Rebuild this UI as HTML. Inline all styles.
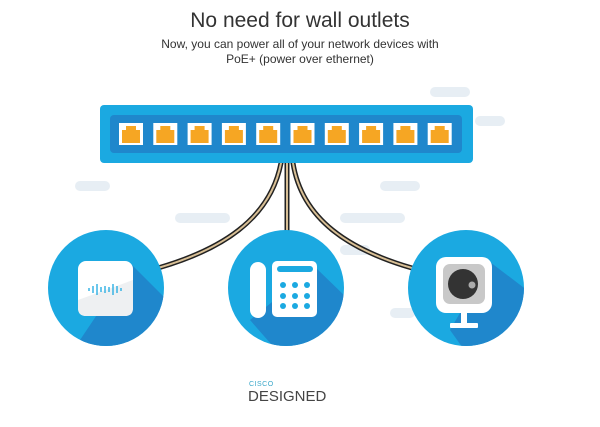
<!DOCTYPE html>
<html><head><style>
body{margin:0;width:600px;height:422px;background:#fff;overflow:hidden;font-family:"Liberation Sans",sans-serif;}
</style></head><body>
<svg width="600" height="422" viewBox="0 0 600 422" xmlns="http://www.w3.org/2000/svg">
<g stroke="#e7eef4" stroke-width="10" stroke-linecap="round">
<line x1="435" y1="92" x2="465" y2="92"/>
<line x1="480" y1="121" x2="500" y2="121"/>
<line x1="80" y1="186" x2="105" y2="186"/>
<line x1="385" y1="186" x2="415" y2="186"/>
<line x1="180" y1="218" x2="225" y2="218"/>
<line x1="345" y1="218" x2="400" y2="218"/>
<line x1="345" y1="250" x2="365" y2="250"/>
<line x1="395" y1="313" x2="410" y2="313"/>
</g>
<text x="300" y="27" text-anchor="middle" font-size="21" fill="#333">No need for wall outlets</text>
<text x="300" y="48" text-anchor="middle" font-size="12" fill="#333">Now, you can power all of your network devices with</text>
<text x="300" y="63" text-anchor="middle" font-size="12" fill="#333">PoE+ (power over ethernet)</text>
<g fill="none" stroke-linecap="round">
<g stroke="#222" stroke-width="5">
<path d="M281 163 C270 220 220 250 158 268"/>
<path d="M287 163 L287 233"/>
<path d="M293 163 C302 220 350 250 412 268"/>
</g>
<g stroke="#d8bf95" stroke-width="2">
<path d="M281 163 C270 220 220 250 158 268"/>
<path d="M287 163 L287 233"/>
<path d="M293 163 C302 220 350 250 412 268"/>
</g>
</g>
<rect x="100" y="105" width="373" height="58" rx="4" fill="#1ba9e1"/>
<rect x="110" y="115" width="352" height="38" rx="4" fill="#1f87cc"/>
<g id="ports">
<rect x="119" y="123" width="24" height="22" fill="#fff"/>
<rect x="122" y="130" width="18" height="13" fill="#f6a623"/>
<rect x="126" y="126" width="10" height="5" fill="#f6a623"/>
</g>
<use href="#ports" x="34.3"/><use href="#ports" x="68.6"/><use href="#ports" x="102.9"/><use href="#ports" x="137.2"/><use href="#ports" x="171.5"/><use href="#ports" x="205.8"/><use href="#ports" x="240.1"/><use href="#ports" x="274.4"/><use href="#ports" x="308.7"/>
<defs>
<clipPath id="c1"><circle cx="106" cy="288" r="58"/></clipPath>
<clipPath id="c2"><circle cx="286" cy="288" r="58"/></clipPath>
<clipPath id="c3"><circle cx="466" cy="288" r="58"/></clipPath>
</defs>
<circle cx="106" cy="288" r="58" fill="#1ba9e1"/>
<path clip-path="url(#c1)" d="M131 264 L200 333 L140 400 L80 340 Z" fill="#1f87cc"/>
<rect x="78" y="261" width="55" height="55" rx="8" fill="#fff"/>
<path d="M78 300 L133 280 L133 308 Q133 316 125 316 L86 316 Q78 316 78 308 Z" fill="#eef0f2"/>
<g stroke="#1ba9e1" stroke-width="1.3"><line x1="89" y1="288" x2="89" y2="291"/><line x1="93" y1="286" x2="93" y2="293"/><line x1="97" y1="284" x2="97" y2="295"/><line x1="101" y1="287" x2="101" y2="292"/><line x1="105" y1="286" x2="105" y2="293"/><line x1="109" y1="287" x2="109" y2="292"/><line x1="113" y1="284" x2="113" y2="295"/><line x1="117" y1="286" x2="117" y2="293"/><line x1="121" y1="288" x2="121" y2="291"/></g>
<circle cx="286" cy="288" r="58" fill="#1ba9e1"/>
<path clip-path="url(#c2)" d="M315 267 L380 330 L320 400 L250 320 Z" fill="#1f87cc"/>
<rect x="250" y="262" width="16" height="56" rx="8" fill="#fff"/>
<rect x="272" y="261" width="45" height="56" rx="5" fill="#fff"/>
<rect x="277" y="266" width="36" height="6" rx="3" fill="#1ba9e1"/>
<g fill="#1ba9e1"><circle cx="283" cy="285" r="3"/><circle cx="295" cy="285" r="3"/><circle cx="307" cy="285" r="3"/><circle cx="283" cy="296" r="3"/><circle cx="295" cy="296" r="3"/><circle cx="307" cy="296" r="3"/><circle cx="283" cy="306" r="3"/><circle cx="295" cy="306" r="3"/><circle cx="307" cy="306" r="3"/></g>
<circle cx="466" cy="288" r="58" fill="#1ba9e1"/>
<path clip-path="url(#c3)" d="M490 262 L540 300 L500 400 L450 330 Z" fill="#1f87cc"/>
<rect x="436" y="257" width="56" height="56" rx="10" fill="#fff"/>
<rect x="443" y="264" width="42" height="40" rx="7" fill="#c8c8c8"/>
<circle cx="463" cy="284" r="15" fill="#333"/>
<circle cx="472" cy="285" r="3.5" fill="#aaa"/>
<rect x="461" y="313" width="6" height="12" fill="#fff"/>
<rect x="450" y="323" width="28" height="5" rx="1" fill="#fff"/>
<text x="249" y="386" font-size="7" fill="#3aa7c9" letter-spacing="0.5">CISCO</text>
<text x="248" y="401" font-size="15" fill="#444">DESIGNED</text>
</svg>
</body></html>
